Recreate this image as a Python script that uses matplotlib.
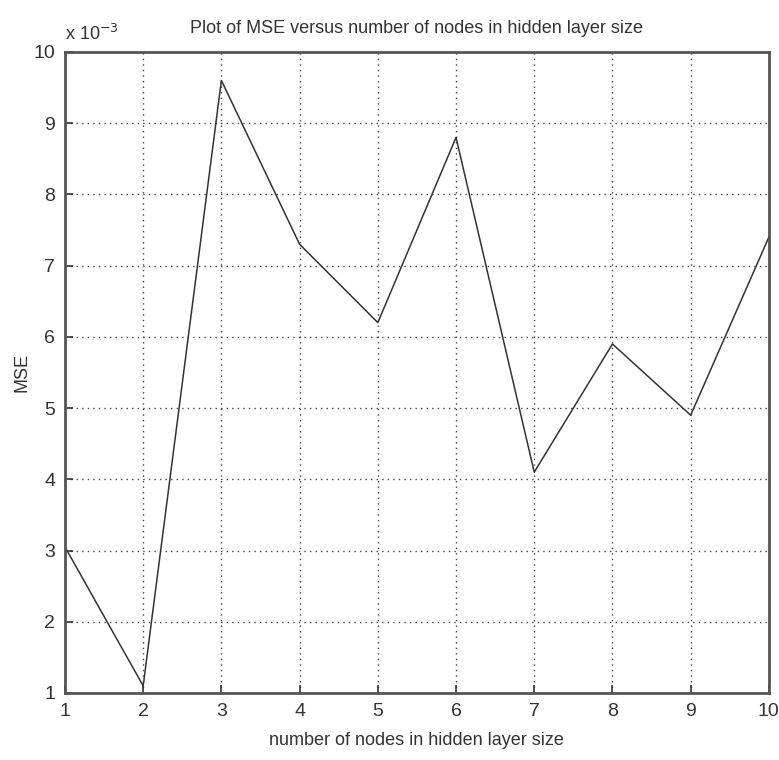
import numpy as np
import matplotlib
matplotlib.use('Agg')
import matplotlib.pyplot as plt
from matplotlib.ticker import FuncFormatter

plt.rcParams['font.family'] = ['Liberation Sans', 'DejaVu Sans']

# hidden layer sizes and MSE values
nodes = [1, 2, 3, 4, 5, 6, 7, 8, 9, 10]
mse = [3.05e-3, 1.1e-3, 9.6e-3, 7.3e-3, 6.2e-3, 8.8e-3, 4.1e-3, 5.9e-3, 4.9e-3, 7.4e-3]

fig = plt.figure(figsize=(7.79, 7.6), dpi=100)
ax = fig.add_axes([0.0834, 0.0882, 0.9036, 0.8434])

ax.plot(nodes, mse, color='#333333', linewidth=1.1)

ax.set_xlim(1, 10)
ax.set_ylim(1e-3, 10e-3)
ax.set_xticks(range(1, 11))
ax.set_yticks([i * 1e-3 for i in range(1, 11)])
ax.yaxis.set_major_formatter(FuncFormatter(lambda v, p: '%d' % round(v * 1e3)))

ax.grid(True, color='#444444', linestyle=(0, (1, 3)), linewidth=1.0)
ax.tick_params(direction='in', length=6, width=1.2, labelsize=14, colors='#333333',
               top=False, right=False, pad=7)
for s in ax.spines.values():
    s.set_linewidth(2.0)
    s.set_color('#555555')

ax.set_title('Plot of MSE versus number of nodes in hidden layer size', fontsize=13,
             color='#333333', pad=14)
ax.set_xlabel('number of nodes in hidden layer size', fontsize=13, color='#333333', labelpad=9)
fig.text(22 / 779, 1 - 372 / 760, 'MSE', rotation=90, fontsize=13, color='#333333',
         ha='center', va='center')
ax.text(0.0, 1.012, 'x 10$^{-3}$', transform=ax.transAxes, fontsize=13, color='#333333',
        ha='left', va='bottom')

fig.savefig('out.png', dpi=100)
